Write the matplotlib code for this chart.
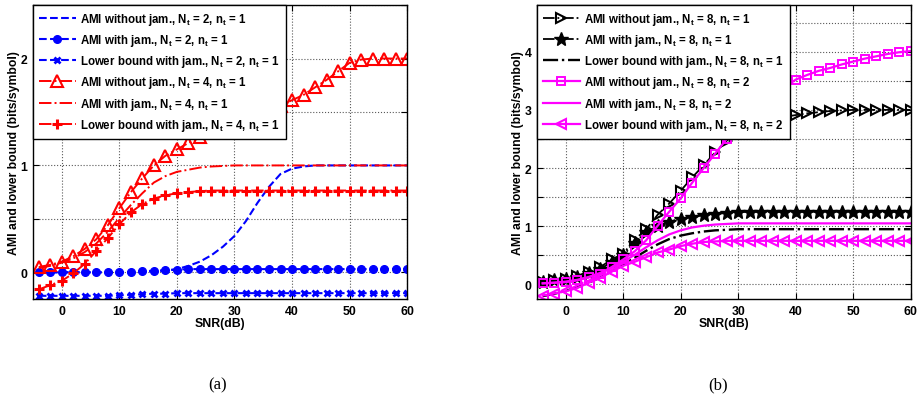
import matplotlib
matplotlib.use("Agg")
import matplotlib.pyplot as plt

plt.rcParams.update({
    "font.family": "Liberation Sans",
    "font.weight": "bold",
    "mathtext.fontset": "custom",
    "mathtext.rm": "Liberation Sans:bold",
    "mathtext.it": "Liberation Sans:bold",
    "mathtext.bf": "Liberation Sans:bold",
})

# SNR grid (dB)
snr = [-4, -2, 0, 2, 4, 6, 8, 10, 12, 14, 16, 18, 20, 22, 24, 26, 28, 30,
       32, 34, 36, 38, 40, 42, 44, 46, 48, 50, 52, 54, 56, 58, 60]

# (a) Nt = 2 / Nt = 4, nt = 1
ami_noj_n2 = [0.0, 0.0, 0.0, 0.0, 0.0, 0.0, 0.0, 0.0, 0.0, 0.005, 0.01, 0.015, 0.03, 0.06,
              0.1, 0.16, 0.24, 0.34, 0.48, 0.65, 0.8, 0.92, 0.97, 0.99, 1.0, 1.0, 1.0,
              1.0, 1.0, 1.0, 1.0, 1.0, 1.0]
ami_j_n2 = [0.0, 0.0, 0.0, 0.0, 0.0, 0.0, 0.0, 0.0, 0.005, 0.01, 0.015, 0.02, 0.025, 0.03,
            0.03, 0.03, 0.03, 0.03, 0.03, 0.03, 0.03, 0.03, 0.03, 0.03, 0.03, 0.03, 0.03,
            0.03, 0.03, 0.03, 0.03, 0.03, 0.03]
lb_j_n2 = [-0.22, -0.22, -0.22, -0.22, -0.22, -0.22, -0.22, -0.215, -0.21, -0.205, -0.2,
           -0.2, -0.195, -0.195, -0.195, -0.195, -0.195, -0.195, -0.195, -0.195, -0.195,
           -0.195, -0.195, -0.195, -0.195, -0.195, -0.195, -0.195, -0.195, -0.195, -0.195,
           -0.195, -0.195]
ami_noj_n4 = [0.05, 0.07, 0.1, 0.15, 0.22, 0.31, 0.44, 0.6, 0.75, 0.88, 1.0, 1.09, 1.15,
              1.21, 1.27, 1.31, 1.35, 1.39, 1.43, 1.47, 1.52, 1.56, 1.61, 1.66, 1.73, 1.8,
              1.88, 1.96, 1.99, 2.0, 2.0, 2.0, 2.0]
ami_j_n4 = [0.04, 0.06, 0.09, 0.13, 0.19, 0.27, 0.38, 0.51, 0.63, 0.74, 0.84, 0.9, 0.94,
            0.96, 0.98, 0.99, 0.995, 1.0, 1.0, 1.0, 1.0, 1.0, 1.0, 1.0, 1.0, 1.0, 1.0, 1.0,
            1.0, 1.0, 1.0, 1.0, 1.0]
lb_j_n4 = [-0.16, -0.12, -0.08, -0.01, 0.08, 0.2, 0.32, 0.45, 0.56, 0.64, 0.69, 0.72, 0.74,
           0.75, 0.76, 0.765, 0.765, 0.765, 0.765, 0.765, 0.765, 0.765, 0.765, 0.765, 0.765,
           0.765, 0.765, 0.765, 0.765, 0.765, 0.765, 0.765, 0.765]

# (b) Nt = 8, nt = 1 / nt = 2
ami_noj_t1 = [0.05, 0.07, 0.1, 0.15, 0.22, 0.3, 0.43, 0.53, 0.77, 0.95, 1.2, 1.39, 1.61,
              1.84, 2.05, 2.27, 2.47, 2.62, 2.73, 2.8, 2.85, 2.88, 2.91, 2.94, 2.96, 2.98,
              2.99, 3.0, 3.0, 3.0, 3.0, 3.0, 3.0]
ami_j_t1 = [0.05, 0.07, 0.09, 0.13, 0.19, 0.27, 0.38, 0.5, 0.72, 0.9, 1.01, 1.08, 1.13,
            1.16, 1.19, 1.21, 1.23, 1.24, 1.25, 1.25, 1.25, 1.25, 1.25, 1.25, 1.25, 1.25,
            1.25, 1.25, 1.25, 1.25, 1.25, 1.25, 1.25]
lb_j_t1 = [-0.2, -0.16, -0.11, -0.05, 0.03, 0.12, 0.23, 0.34, 0.46, 0.58, 0.69, 0.78, 0.84,
           0.88, 0.91, 0.93, 0.94, 0.95, 0.95, 0.95, 0.95, 0.95, 0.95, 0.95, 0.95, 0.95,
           0.95, 0.95, 0.95, 0.95, 0.95, 0.95, 0.95]
ami_noj_t2 = [0.02, 0.03, 0.04, 0.07, 0.12, 0.18, 0.3, 0.43, 0.57, 0.76, 1.01, 1.25, 1.48,
              1.75, 2.0, 2.25, 2.5, 2.72, 2.92, 3.09, 3.24, 3.38, 3.52, 3.6, 3.67, 3.72,
              3.78, 3.83, 3.88, 3.92, 3.96, 3.99, 4.01]
ami_j_t2 = [0.02, 0.03, 0.05, 0.08, 0.13, 0.2, 0.29, 0.39, 0.51, 0.64, 0.76, 0.86, 0.93,
            0.98, 1.01, 1.03, 1.04, 1.05, 1.05, 1.05, 1.05, 1.05, 1.05, 1.05, 1.05, 1.05,
            1.05, 1.05, 1.05, 1.05, 1.05, 1.05, 1.05]
lb_j_t2 = [-0.19, -0.155, -0.115, -0.06, 0.03, 0.115, 0.22, 0.32, 0.39, 0.47, 0.55, 0.6,
           0.66, 0.7, 0.73, 0.74, 0.75, 0.75, 0.75, 0.75, 0.75, 0.75, 0.75, 0.75, 0.75,
           0.75, 0.75, 0.75, 0.75, 0.75, 0.75, 0.75, 0.75]

labels_a = [
    r"AMI without jam., N$_t$ = 2, n$_t$ = 1",
    r"AMI with jam., N$_t$ = 2, n$_t$ = 1",
    r"Lower bound with jam., N$_t$ = 2, n$_t$ = 1",
    r"AMI without jam., N$_t$ = 4, n$_t$ = 1",
    r"AMI with jam., N$_t$ = 4, n$_t$ = 1",
    r"Lower bound with jam., N$_t$ = 4, n$_t$ = 1",
]
labels_b = [
    r"AMI without jam., N$_t$ = 8, n$_t$ = 1",
    r"AMI with jam., N$_t$ = 8, n$_t$ = 1",
    r"Lower bound with jam., N$_t$ = 8, n$_t$ = 1",
    r"AMI without jam., N$_t$ = 8, n$_t$ = 2",
    r"AMI with jam., N$_t$ = 8, n$_t$ = 2",
    r"Lower bound with jam., N$_t$ = 8, n$_t$ = 2",
]

fig = plt.figure(figsize=(9.17, 4.06), dpi=100)
ax_a = fig.add_axes([0.036, 0.261, 0.408, 0.724])
ax_b = fig.add_axes([0.5856, 0.261, 0.4075, 0.724])

blue, red, mag = "#0000ff", "#ff0000", "#ff00ff"

# ---- (a)
ax_a.plot(snr, ami_noj_n2, "--", color=blue, lw=1.5, label=labels_a[0])
ax_a.plot(snr, ami_j_n2, "--", color=blue, lw=1.5, marker="o", ms=5.5, label=labels_a[1])
ax_a.plot(snr, lb_j_n2, "--", color=blue, lw=1.5, marker="x", ms=4.5, mew=2, label=labels_a[2])
ax_a.plot(snr, ami_noj_n4, "-.", color=red, lw=1.4, marker="^", ms=8, mfc="none",
          mew=1.5, label=labels_a[3])
ax_a.plot(snr, ami_j_n4, "-.", color=red, lw=1.4, label=labels_a[4])
ax_a.plot(snr, lb_j_n4, "-.", color=red, lw=1.4, marker="+", ms=7, mew=2.2, label=labels_a[5])

# ---- (b)
ax_b.plot(snr, ami_noj_t1, "-.", color="k", lw=1.3, marker=">", ms=7.5, mfc="none",
          mew=1.5, label=labels_b[0])
ax_b.plot(snr, ami_j_t1, "-.", color="k", lw=1.3, marker="*", ms=10, label=labels_b[1])
ax_b.plot(snr, lb_j_t1, "-.", color="k", lw=1.7, label=labels_b[2])
ax_b.plot(snr, ami_noj_t2, "-", color=mag, lw=1.6, marker="s", ms=5.5, mfc="none",
          mew=1.4, label=labels_b[3])
ax_b.plot(snr, ami_j_t2, "-", color=mag, lw=1.6, label=labels_b[4])
ax_b.plot(snr, lb_j_t2, "-", color=mag, lw=1.6, marker="<", ms=7.5, mfc="none",
          mew=1.5, label=labels_b[5])

for ax, ylim in [(ax_a, (-0.25, 2.5)), (ax_b, (-0.25, 4.8))]:
    ax.set_xlim(-5, 60)
    ax.set_ylim(*ylim)
    ax.set_xticks([0, 10, 20, 30, 40, 50, 60])
    yt = [i * 0.5 for i in range(0, int(ylim[1] / 0.5) + 1)]
    ax.set_yticks(yt, [str(int(v)) if v == int(v) else "" for v in yt])
    ax.tick_params(direction="in", top=True, right=True, labelsize=8.8, length=4,
                   width=0.8, pad=4)
    for lab in ax.get_xticklabels() + ax.get_yticklabels():
        lab.set_fontweight("bold")
    ax.grid(True, linestyle=":", color="0.35", linewidth=0.8)
    for sp in ax.spines.values():
        sp.set_linewidth(1.0)
    ax.set_xlabel("SNR(dB)", fontsize=8.8, fontweight="bold", labelpad=0)
    ax.set_ylabel("AMI and lower bound (bits/symbol)", fontsize=8.8, fontweight="bold",
                  labelpad=0.5)
    leg = ax.legend(loc="upper left", bbox_to_anchor=(0, 1), borderaxespad=0,
                    fancybox=False, edgecolor="k", framealpha=1,
                    prop={"family": "Liberation Sans", "weight": "bold", "size": 8.3},
                    handlelength=3.2, handletextpad=0.4, labelspacing=0.45,
                    borderpad=0.5)
    leg.get_frame().set_linewidth(1.0)

fig.text(218 / 917, 1 - 385 / 406, "(a)", family="Liberation Serif", fontsize=12,
         ha="center", va="center", fontweight="normal")
fig.text(718 / 917, 1 - 385 / 406, "(b)", family="Liberation Serif", fontsize=12,
         ha="center", va="center", fontweight="normal")

fig.savefig("out.png", dpi=100)
